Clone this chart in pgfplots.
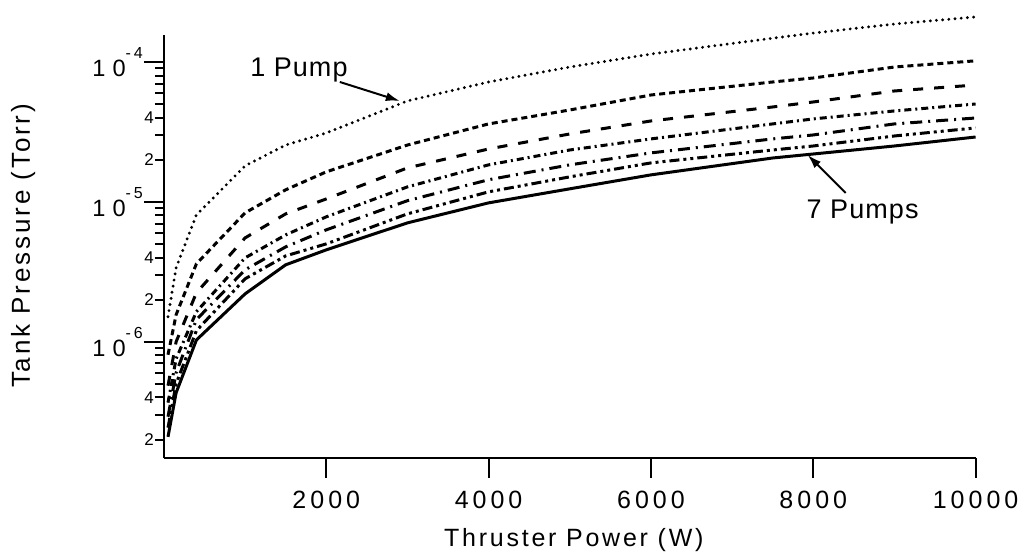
\documentclass[border=0pt]{standalone}
\usepackage{fontspec}
\setmainfont{Liberation Sans}[LetterSpace=4]
\newfontfamily\labfont{Liberation Sans}[LetterSpace=11]
\newfontfamily\numfont{Liberation Sans}[LetterSpace=16]
\usepackage{pgfplots}
\usepackage{pgfplotstable}
\pgfplotsset{compat=1.18}
\usetikzlibrary{arrows.meta}

% Tank pressure (Torr) against thruster power (W) for 1 to 7 pumps
\pgfplotstableread{
x     p1      p2      p3      p4      p5      p6      p7
50    1.51e-6 8.07e-7 4.85e-7 3.67e-7 2.91e-7 2.43e-7 2.09e-7
150   3.38e-6 1.56e-6 1.00e-6 7.56e-7 6.01e-7 5.01e-7 4.32e-7
400   8.07e-6 3.61e-6 2.24e-6 1.64e-6 1.44e-6 1.20e-6 1.03e-6
1000  1.81e-5 8.35e-6 5.53e-6 3.98e-6 3.27e-6 2.82e-6 2.20e-6
1500  2.55e-5 1.22e-5 8.21e-6 5.81e-6 4.77e-6 4.11e-6 3.55e-6
2000  3.11e-5 1.64e-5 1.05e-5 7.82e-6 6.31e-6 5.01e-6 4.54e-6
3000  5.27e-5 2.55e-5 1.75e-5 1.28e-5 1.02e-5 8.21e-6 7.08e-6
4000  7.20e-5 3.61e-5 2.39e-5 1.84e-5 1.44e-5 1.18e-5 9.84e-6
5000  9.21e-5 4.54e-5 3.06e-5 2.35e-5 1.84e-5 1.51e-5 1.24e-5
6000  1.14e-4 5.81e-5 3.79e-5 2.82e-5 2.24e-5 1.90e-5 1.56e-5
7500  1.48e-4 7.20e-5 4.77e-5 3.61e-5 2.82e-5 2.35e-5 2.06e-5
8000  1.61e-4 7.69e-5 5.18e-5 3.92e-5 3.01e-5 2.51e-5 2.20e-5
9000  1.87e-4 9.21e-5 6.21e-5 4.47e-5 3.61e-5 2.96e-5 2.51e-5
10000 2.10e-4 1.02e-4 6.85e-5 5.01e-5 3.98e-5 3.38e-5 2.91e-5
}\pumpdata

\newcommand{\dec}[1]{\fontsize{11.8}{12}\selectfont 1\hspace{3.5pt}0\raisebox{9pt}{\fontsize{8}{9}\selectfont -\hspace{1.5pt}#1}}

\begin{document}
\begin{tikzpicture}
\begin{axis}[
  scale only axis,
  width=406pt, height=211.5pt,
  xmin=0, xmax=10000,
  ymode=log, ymin=1.48e-7, ymax=1.56e-4,
  axis x line=bottom, axis y line=left,
  axis line style={-, line width=1.3pt},
  clip=false,
  scaled x ticks=false,
  xtick={2000,4000,6000,8000,10000},
  xticklabels={2000,4000,6000,8000,10000},
  xticklabel style={font=\fontsize{12.5}{14}\selectfont\numfont, yshift=-3pt},
  xtick align=outside, ytick align=outside,
  major tick length=10pt, minor tick length=4.5pt,
  every tick/.style={black, line width=1pt},
  ytick={1e-6,1e-5,1e-4},
  yticklabels={\dec{6},\dec{5},\dec{4}},
  yticklabel style={anchor=east, xshift=3pt},
  minor ytick={2e-7,3e-7,4e-7,5e-7,6e-7,7e-7,8e-7,9e-7,
               2e-6,3e-6,4e-6,5e-6,6e-6,7e-6,8e-6,9e-6,
               2e-5,3e-5,4e-5,5e-5,6e-5,7e-5,8e-5,9e-5},
  extra y ticks={2e-7,4e-7,2e-6,4e-6,2e-5,4e-5},
  extra y tick labels={2,4,2,4,2,4},
  extra y tick style={major tick length=4.5pt,
    yticklabel style={font=\fontsize{8.5}{9}\selectfont, anchor=east, xshift=0pt}},
]
\addplot[black, line width=1.6pt, line cap=round, dash pattern=on 0pt off 3.1pt] table[x=x, y=p1]{\pumpdata};
\addplot[black, line width=1.5pt, dash pattern=on 3pt off 2pt] table[x=x, y=p2]{\pumpdata};
\addplot[black, line width=1.5pt, dash pattern=on 5pt off 5.5pt] table[x=x, y=p3]{\pumpdata};
\addplot[black, line width=1.5pt, dash pattern=on 3.5pt off 2pt on 1pt off 2pt] table[x=x, y=p4]{\pumpdata};
\addplot[black, line width=1.5pt, dash pattern=on 6pt off 3pt on 1pt off 3pt] table[x=x, y=p5]{\pumpdata};
\addplot[black, line width=1.5pt, dash pattern=on 5pt off 2pt on 1.5pt off 2pt on 1.5pt off 2pt] table[x=x, y=p6]{\pumpdata};
\addplot[black, line width=1.5pt] table[x=x, y=p7]{\pumpdata};

% curve labels
\node[font=\fontsize{13.5}{15}\selectfont] at (rel axis cs:0.1663,0.9173) {1 Pump};
\draw[line width=1pt, -{Latex[length=7pt,width=4.5pt]}]
  (rel axis cs:0.2167,0.8889) -- (rel axis cs:0.2906,0.844);
\node[font=\fontsize{13.5}{15}\selectfont] at (rel axis cs:0.8608,0.5816) {7 Pumps};
\draw[line width=1pt, -{Latex[length=7pt,width=4.5pt]}]
  (rel axis cs:0.8399,0.6265) -- (rel axis cs:0.7931,0.7163);

% axis titles
\node[font=\fontsize{12.5}{14}\selectfont\labfont] at (rel axis cs:0.505,-0.194) {Thruster Power (W)};
\node[font=\fontsize{13}{14}\selectfont\labfont, rotate=90] at (rel axis cs:-0.1736,0.5012) {Tank Pressure (Torr)};

% page frame
\coordinate (pgbl) at (rel axis cs:-0.202,-0.227);
\coordinate (pgtr) at (rel axis cs:1.0603,1.0828);
\end{axis}
\path (pgbl) rectangle (pgtr);
\end{tikzpicture}
\end{document}
